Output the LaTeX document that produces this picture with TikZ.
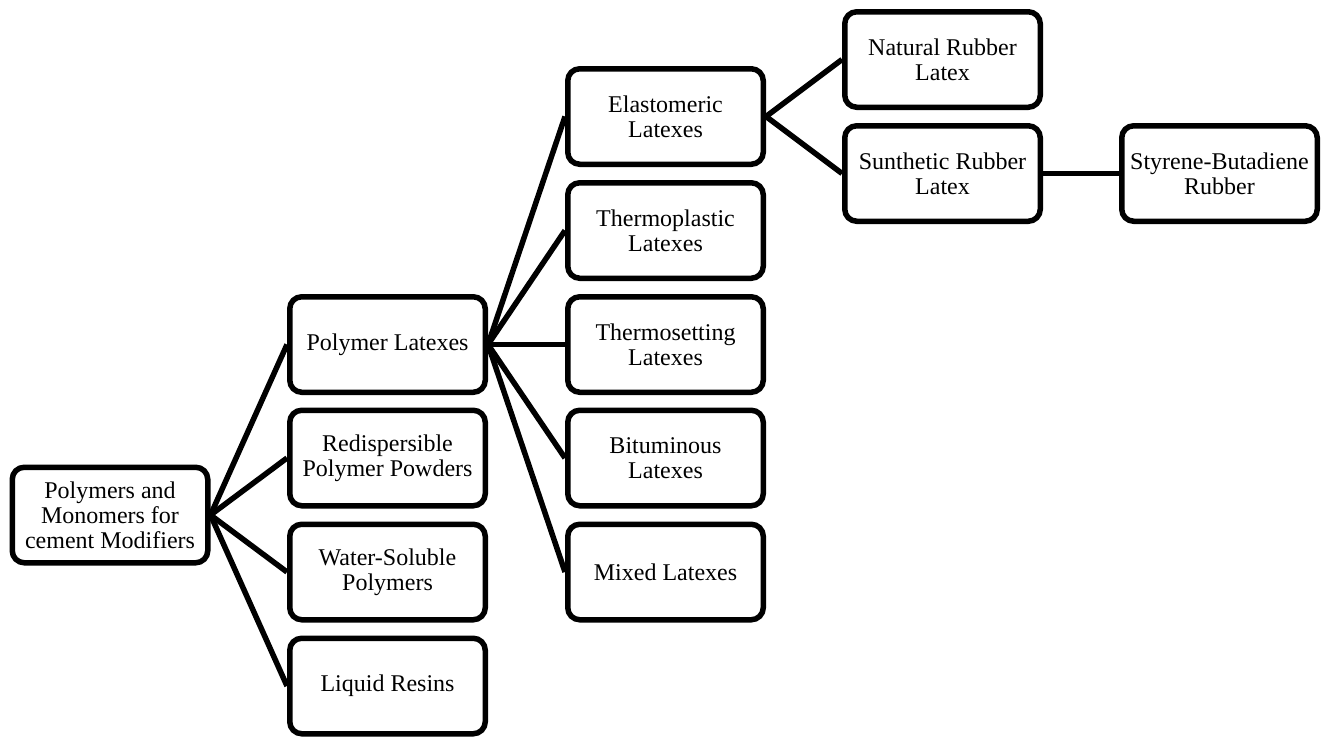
\documentclass[tikz,border=0pt]{standalone}
\usepackage{fontspec}
\setmainfont{Liberation Serif}
\begin{document}
\begin{tikzpicture}[x=1pt,y=-1pt,
  box/.style={draw=black, line width=5.5pt, rounded corners=12pt, fill=white,
    minimum width=195.5pt, minimum height=95.5pt, inner sep=0pt, align=center,
    font=\fontsize{24}{25}\selectfont},
  link/.style={line width=5.5pt}]
\useasboundingbox (0,0) rectangle (1324,737);
\node[box] (root) at (110,515) {Polymers and\\Monomers for\\cement Modifiers};
\node[box] (pl) at (387.5,344.5) {Polymer Latexes};
\node[box] (rp) at (387.5,458) {Redispersible\\Polymer Powders};
\node[box] (ws) at (387.5,572) {Water-Soluble\\Polymers};
\node[box] (lr) at (387.5,686) {Liquid Resins};
\node[box] (el) at (665.5,116.5) {Elastomeric\\Latexes};
\node[box] (tp) at (665.5,230.5) {Thermoplastic\\Latexes};
\node[box] (ts) at (665.5,344.5) {Thermosetting\\Latexes};
\node[box] (bl) at (665.5,458) {Bituminous\\Latexes};
\node[box] (ml) at (665.5,572) {Mixed Latexes};
\node[box] (nr) at (942.5,59.5) {Natural Rubber\\Latex};
\node[box] (sr) at (942.5,173.5) {Sunthetic Rubber\\Latex};
\node[box] (sb) at (1219.5,173.5) {Styrene-Butadiene\\Rubber};
\foreach \c in {pl,rp,ws,lr} \draw[link] (root.east) -- (\c.west);
\foreach \c in {el,tp,ts,bl,ml} \draw[link] (pl.east) -- (\c.west);
\foreach \c in {nr,sr} \draw[link] (el.east) -- (\c.west);
\draw[link] (sr.east) -- (sb.west);
\end{tikzpicture}
\end{document}
